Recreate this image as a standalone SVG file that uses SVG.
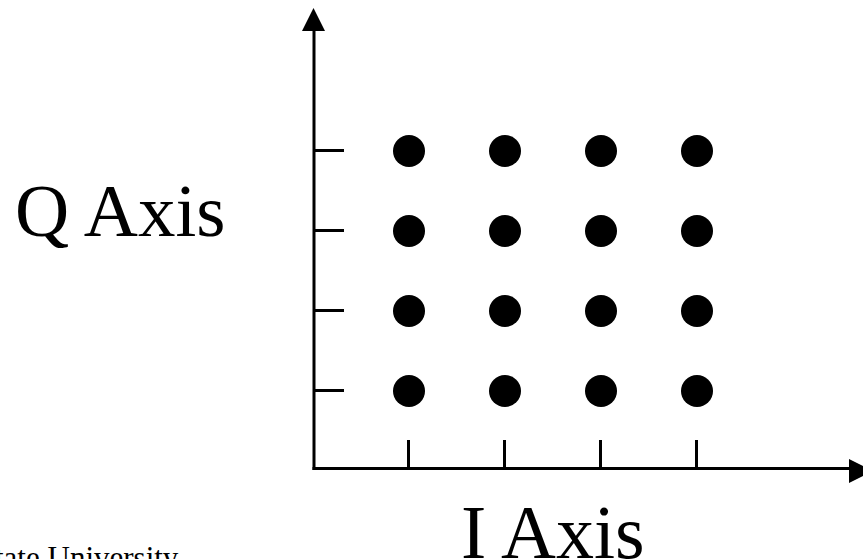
<svg xmlns="http://www.w3.org/2000/svg" width="863" height="559" viewBox="0 0 863 559">
<style>
.ax{stroke:#000;stroke-width:3;fill:none}
.tk{stroke:#000;stroke-width:3}
.dot{fill:#000}
.lbl{font-family:"Liberation Serif","Times New Roman",serif;fill:#000}
</style>
<rect width="863" height="559" fill="#fff"/>
<g id="connectors">
<line class="ax" x1="314" y1="470" x2="314" y2="28"/>
<polygon points="302,31 325,31 313.5,8" fill="#000"/>
<line class="ax" x1="312.5" y1="468.5" x2="852" y2="468.5"/>
<polygon points="849,459 849,483 873,471" fill="#000"/>
</g>
<g id="q-ticks">
<line class="tk" x1="314" y1="150.5" x2="344" y2="150.5"/>
<line class="tk" x1="314" y1="230.5" x2="344" y2="230.5"/>
<line class="tk" x1="314" y1="310.5" x2="344" y2="310.5"/>
<line class="tk" x1="314" y1="390.5" x2="344" y2="390.5"/>
</g>
<g id="i-ticks">
<line class="tk" x1="408.5" y1="440" x2="408.5" y2="468"/>
<line class="tk" x1="504.5" y1="440" x2="504.5" y2="468"/>
<line class="tk" x1="600.5" y1="440" x2="600.5" y2="468"/>
<line class="tk" x1="696.5" y1="440" x2="696.5" y2="468"/>
</g>
<g id="points">
<circle class="dot" cx="409" cy="151" r="16"/>
<circle class="dot" cx="505" cy="151" r="16"/>
<circle class="dot" cx="601" cy="151" r="16"/>
<circle class="dot" cx="697" cy="151" r="16"/>
<circle class="dot" cx="409" cy="231" r="16"/>
<circle class="dot" cx="505" cy="231" r="16"/>
<circle class="dot" cx="601" cy="231" r="16"/>
<circle class="dot" cx="697" cy="231" r="16"/>
<circle class="dot" cx="409" cy="311" r="16"/>
<circle class="dot" cx="505" cy="311" r="16"/>
<circle class="dot" cx="601" cy="311" r="16"/>
<circle class="dot" cx="697" cy="311" r="16"/>
<circle class="dot" cx="409" cy="391" r="16"/>
<circle class="dot" cx="505" cy="391" r="16"/>
<circle class="dot" cx="601" cy="391" r="16"/>
<circle class="dot" cx="697" cy="391" r="16"/>
</g>
<g id="q-label"><text class="lbl" x="15" y="236" font-size="75">Q Axis</text></g>
<g id="i-label"><text class="lbl" x="461" y="558" font-size="76">I Axis</text></g>
<g id="footer"><text class="lbl" x="-5" y="568" font-size="31">tate University</text></g>
</svg>
